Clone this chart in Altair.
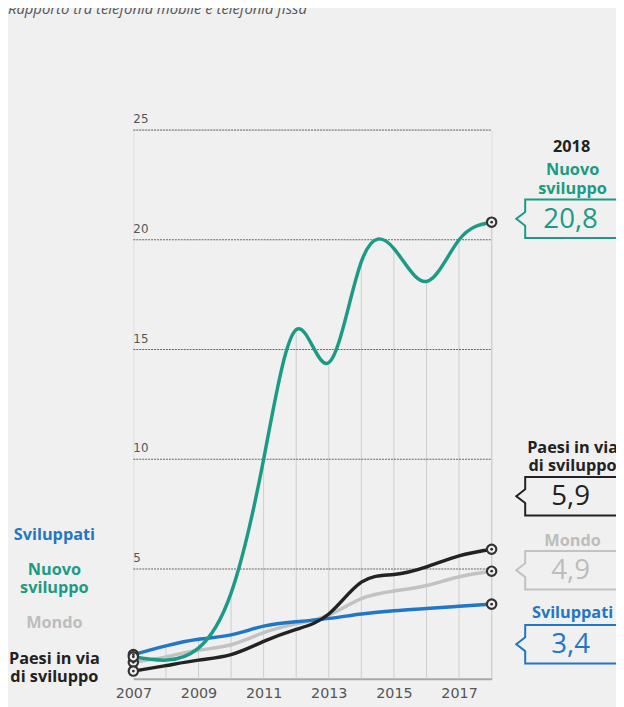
import altair as alt
import pandas as pd

# ---------------- data ----------------
years = list(range(2007, 2019))
sviluppati = [1.1, 1.5, 1.8, 2.0, 2.4, 2.6, 2.75, 2.95, 3.1, 3.2, 3.3, 3.4]
nuovo_sviluppo = [1.0, 0.85, 1.4, 3.9, 10.0, 15.9, 14.4, 19.0, 19.6, 18.1, 20.0, 20.8]
mondo = [0.75, 1.0, 1.3, 1.55, 2.1, 2.5, 2.9, 3.65, 4.0, 4.25, 4.65, 4.9]
paesi_in_via = [0.35, 0.6, 0.85, 1.1, 1.7, 2.25, 2.95, 4.4, 4.75, 5.1, 5.6, 5.9]

series_names = ["Mondo", "Sviluppati", "Paesi in via di sviluppo", "Nuovo sviluppo"]
series_values = [mondo, sviluppati, paesi_in_via, nuovo_sviluppo]
series_colors = ["#c2c2c2", "#1f77c6", "#222222", "#1b9b85"]
label_colors = ["#bdbdbd", "#1f77c6", "#222222", "#1b9b85"]
label_lines = [["Mondo"], ["Sviluppati"], ["Paesi in via", "di sviluppo"], ["Nuovo", "sviluppo"]]

y_ticks = [5, 10, 15, 20, 25]
x_labels = [2007, 2009, 2011, 2013, 2015, 2017]
title_text = "Rapporto tra telefonia mobile e telefonia fissa"
last_year_label = "2018"

# ---------------- styling / layout ----------------
BG = "#f0f0f0"
FONT = "Open Sans"
NUM_FONT = "DejaVu Sans"
W, H = 363, 556
PAD = {"left": 127, "top": 119, "right": 126, "bottom": 24}
LBL = 16.5
LH = 18.5

rows = []
for name, vals in zip(series_names, series_values):
    for yr, v in zip(years, vals):
        rows.append({"serie": name, "anno": yr, "valore": v})
df = pd.DataFrame(rows)

xscale = alt.Scale(domain=[years[0], years[-1]], nice=False, zero=False)
yscale = alt.Scale(domain=[0, 25], nice=False, zero=True)
xaxis = alt.Axis(values=x_labels, format="d", title=None, grid=False, ticks=False,
                 domain=True, domainColor="#a9a9a9", domainWidth=2,
                 labelFontSize=14.5, labelColor="#555555", labelPadding=8,
                 labelFont=NUM_FONT, labelFlush=False, labelOverlap=False)


def X(field):
    return alt.X(f"{field}:Q", scale=xscale, axis=xaxis)


def Y(field):
    return alt.Y(f"{field}:Q", scale=yscale, axis=None)


# vertical guide lines: from 0 up to the highest series at each year
vdf = pd.DataFrame({
    "anno": years[1:],
    "zero": [0] * (len(years) - 1),
    "top": [max(v[i] for v in series_values) for i in range(1, len(years))],
})
vrules = alt.Chart(vdf).mark_rule(color="#cdcdcd", strokeWidth=1).encode(
    x=X("anno"), y=Y("zero"), y2="top:Q")

# dotted horizontal gridlines
gdf = pd.DataFrame({"v": y_ticks, "anno": [years[0]] * len(y_ticks),
                    "anno2": [years[-1]] * len(y_ticks)})
hgrid = alt.Chart(gdf).mark_rule(color="#666666", strokeWidth=1.2, strokeDash=[2, 1]).encode(
    x=X("anno"), x2="anno2:Q", y=Y("v"))
ylabels = alt.Chart(gdf).mark_text(align="left", baseline="middle", dx=0, dy=-11,
                                   fontSize=12, color="#555555", font=NUM_FONT).encode(
    x=X("anno"), y=Y("v"), text="v:Q")

layers = [vrules, hgrid, ylabels]

# lines
for name, col in zip(series_names, series_colors):
    layers.append(
        alt.Chart(df[df.serie == name]).mark_line(
            interpolate="natural", strokeWidth=3.5, color=col, strokeCap="round"
        ).encode(x=X("anno"), y=Y("valore"))
    )

# end markers
edf = df[df.anno.isin([years[0], years[-1]])]
layers.append(alt.Chart(edf).mark_circle(size=90, fill=BG, stroke="#333333",
                                         strokeWidth=2.2, opacity=1).encode(
    x=X("anno"), y=Y("valore")))
layers.append(alt.Chart(edf).mark_circle(size=8, color="#333333", opacity=1).encode(
    x=X("anno"), y=Y("valore")))

one = pd.DataFrame({"k": [0]})


def txt(lines, px, py, color, size=LBL, weight="bold", align="center", style="normal",
        baseline="alphabetic", font=FONT):
    if isinstance(lines, str):
        lines = [lines]
    return alt.Chart(one).mark_text(
        text="\n".join(lines), lineBreak="\n", lineHeight=LH,
        fontSize=size, fontWeight=weight, color=color, font=font,
        align=align, baseline=baseline, fontStyle=style
    ).encode(x=alt.value(px), y=alt.value(py))


# title (mostly cut by the top edge as in the original crop)
layers.append(txt(title_text, -127, -118, "#555555", size=15, weight="normal",
                  align="left", style="italic"))

# left legend (baseline of the first line of each block)
left_y = {"Sviluppati": 415, "Nuovo sviluppo": 451, "Mondo": 505,
          "Paesi in via di sviluppo": 541}
for name, lines, col in zip(series_names, label_lines, label_colors):
    layers.append(txt(lines, -80, left_y[name], col))

# right side: year, labels and value boxes
layers.append(txt(last_year_label, 444, 22, "#222222"))
right_label_y = {"Nuovo sviluppo": 46, "Paesi in via di sviluppo": 327,
                 "Mondo": 421, "Sviluppati": 494}
box_mid = {"Nuovo sviluppo": 90, "Paesi in via di sviluppo": 371, "Mondo": 446,
           "Sviluppati": 521}
for name, vals, lines, col, lcol in zip(series_names, series_values, label_lines,
                                        series_colors, label_colors):
    layers.append(txt(lines, 445, right_label_y[name], lcol))
    cy = box_mid[name]
    bx, tip, half, ch = 397, 388, 19.5, 7
    layers.append(alt.Chart(one).mark_rect(fill=BG, stroke=col, strokeWidth=2).encode(
        x=alt.value(bx), x2=alt.value(bx + 200), y=alt.value(cy - half), y2=alt.value(cy + half)))
    layers.append(alt.Chart(one).mark_rect(fill=BG, strokeWidth=0).encode(
        x=alt.value(bx - 2), x2=alt.value(bx + 2), y=alt.value(cy - ch), y2=alt.value(cy + ch)))
    layers.append(alt.Chart(one).mark_rule(color=col, strokeWidth=2, strokeCap="round").encode(
        x=alt.value(bx), y=alt.value(cy - ch), x2=alt.value(tip), y2=alt.value(cy)))
    layers.append(alt.Chart(one).mark_rule(color=col, strokeWidth=2, strokeCap="round").encode(
        x=alt.value(tip), y=alt.value(cy), x2=alt.value(bx), y2=alt.value(cy + ch)))
    value_text = f"{vals[-1]:.1f}".replace(".", ",")
    layers.append(txt(value_text, 443, cy + 1, lcol, size=28, weight="normal",
                      baseline="middle"))

chart = alt.layer(*layers).properties(
    width=W, height=H, padding=PAD, autosize=alt.AutoSizeParams(type="none"),
    background=BG
).configure_view(stroke=None).configure(font=FONT)

chart.save("out.html", embed_options={"renderer": "svg", "actions": False})
